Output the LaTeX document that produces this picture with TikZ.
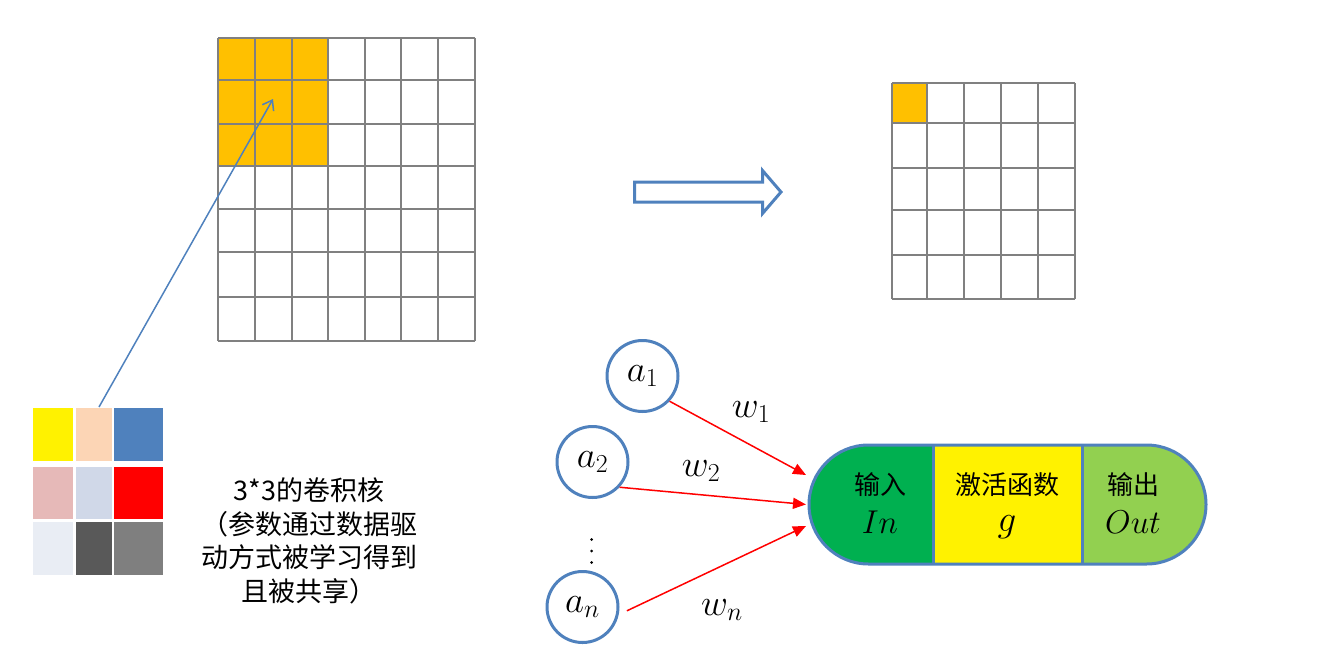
\RequirePackage{fix-cm}
\documentclass[tikz,border=0pt]{standalone}
\usepackage{fontspec}
\newfontfamily\cjk{Noto Sans CJK SC}
\usetikzlibrary{arrows.meta}
\definecolor{gridgray}{HTML}{808080}
\definecolor{korange}{HTML}{FFC000}
\definecolor{nblue}{HTML}{4F81BD}
\definecolor{kpeach}{HTML}{FCD5B5}
\definecolor{kpink}{HTML}{E6B9B8}
\definecolor{klblue}{HTML}{D0D8E8}
\definecolor{kvlight}{HTML}{E9EDF4}
\definecolor{kdark}{HTML}{595959}
\definecolor{kgray}{HTML}{7F7F7F}
\definecolor{cgreen}{HTML}{00B050}
\definecolor{clgreen}{HTML}{92D050}
\tikzset{
  gridline/.style={draw=gridgray, line width=2pt},
  kcell/.style={rectangle, inner sep=0pt, outer sep=0pt},
  neuron/.style={circle, draw=nblue, line width=3pt, minimum size=71pt, inner sep=0pt, fill=white, font=\fontsize{37}{42}\selectfont},
  mathlabel/.style={inner sep=0pt, font=\fontsize{37}{42}\selectfont},
  capmath/.style={inner sep=0pt, font=\fontsize{33}{40}\selectfont},
  cjklabel/.style={inner sep=0pt, font=\cjk\fontsize{26}{32}\selectfont},
  redarrow/.style={draw=red, line width=1.5pt, -{Triangle[length=13pt,width=11pt]}},
  bluearrow/.style={draw=nblue, line width=1.5pt, -{Straight Barb[length=9pt,width=13pt]}},
  outline/.style={draw=nblue, line width=3pt},
}
\begin{document}
\begin{tikzpicture}[x=1pt,y=-1pt]
\useasboundingbox (0,0) rectangle (1320,665);

% big input grid
\fill[korange] (218,38) rectangle (328,166);
\foreach \x in {218,255,292,328,365,401,438,475}
  \draw[gridline] (\x,38) -- (\x,341);
\foreach \y in {38,80,124,166,209,252,297,341}
  \draw[gridline] (218,\y) -- (475,\y);

% output grid
\fill[korange] (892,83) rectangle (927,123);
\foreach \x in {892,927,964,1001,1038,1075}
  \draw[gridline] (\x,83) -- (\x,299);
\foreach \y in {83,123,168,210,255,299}
  \draw[gridline] (892,\y) -- (1075,\y);

% hollow arrow
\draw[outline, fill=white, line join=miter] (634.5,182) -- (762.5,182) -- (762.5,170.5) -- (781,192) -- (762.5,213.5) -- (762.5,202) -- (634.5,202) -- cycle;

% kernel
\node[kcell, fill=yellow,  minimum width=40pt, minimum height=53pt] (k11) at (53,434.5) {};
\node[kcell, fill=kpeach,  minimum width=36pt, minimum height=53pt] (k12) at (94,434.5) {};
\node[kcell, fill=nblue,   minimum width=49pt, minimum height=53pt] (k13) at (138.5,434.5) {};
\node[kcell, fill=kpink,   minimum width=40pt, minimum height=52pt] (k21) at (53,493) {};
\node[kcell, fill=klblue,  minimum width=36pt, minimum height=52pt] (k22) at (94,493) {};
\node[kcell, fill=red,     minimum width=49pt, minimum height=52pt] (k23) at (138.5,493) {};
\node[kcell, fill=kvlight, minimum width=40pt, minimum height=53pt] (k31) at (53,548.5) {};
\node[kcell, fill=kdark,   minimum width=36pt, minimum height=53pt] (k32) at (94,548.5) {};
\node[kcell, fill=kgray,   minimum width=49pt, minimum height=53pt] (k33) at (138.5,548.5) {};

\coordinate (tgt) at (273,99);
\draw[bluearrow] ([xshift=5pt,yshift=1pt]k12.north) -- (tgt);

\node[cjklabel, font=\cjk\fontsize{27}{33.5}\selectfont, align=center] (caption) at (309,541)
  {3*3的卷积核\\（参数通过数据驱\\动方式被学习得到\\且被共享）};

% neurons
\node[neuron] (a1) at (642.5,376) {$a_1$};
\node[neuron] (a2) at (592.5,462) {$a_2$};
\node[neuron] (an) at (582.5,607) {$a_n$};
\fill (591.7,539.5) circle (1.5pt);
\fill (591.7,551) circle (1.5pt);
\fill (591.7,562.5) circle (1.5pt);

% capsule
\begin{scope}
  \clip[rounded corners=59.5pt] (809,445) rectangle (1206,564);
  \fill[cgreen] (809,445) rectangle (933,564);
  \fill[yellow] (933,445) rectangle (1082,564);
  \fill[clgreen] (1082,445) rectangle (1206,564);
\end{scope}
\draw[outline, rounded corners=59.5pt] (809,445) rectangle (1206,564);
\draw[outline] (933,445) -- (933,564);
\draw[outline] (1082,445) -- (1082,564);

\node[cjklabel] (tin) at (880,485) {输入};
\node[capmath] (min) at (880,522) {$In$};
\node[cjklabel] (tg) at (1007,485) {激活函数};
\node[mathlabel] (mg) at (1007,527) {$g$};
\node[cjklabel] (tout) at (1133,485) {输出};
\node[capmath] (mout) at (1133,522) {$Out$};

% connectors
\coordinate (t1) at (806,475);
\coordinate (t2) at (806,504.5);
\coordinate (tn) at (806,526);
\draw[redarrow] (a1.-43) -- (t1);
\draw[redarrow] (a2.-43) -- (t2);
\draw[redarrow, shorten <=9pt] (an.-12) -- (tn);

\node[mathlabel] (w1) at (751,412) {$w_1$};
\node[mathlabel] (w2) at (701,471) {$w_2$};
\node[mathlabel] (wn) at (722,610) {$w_n$};
\end{tikzpicture}
\end{document}
